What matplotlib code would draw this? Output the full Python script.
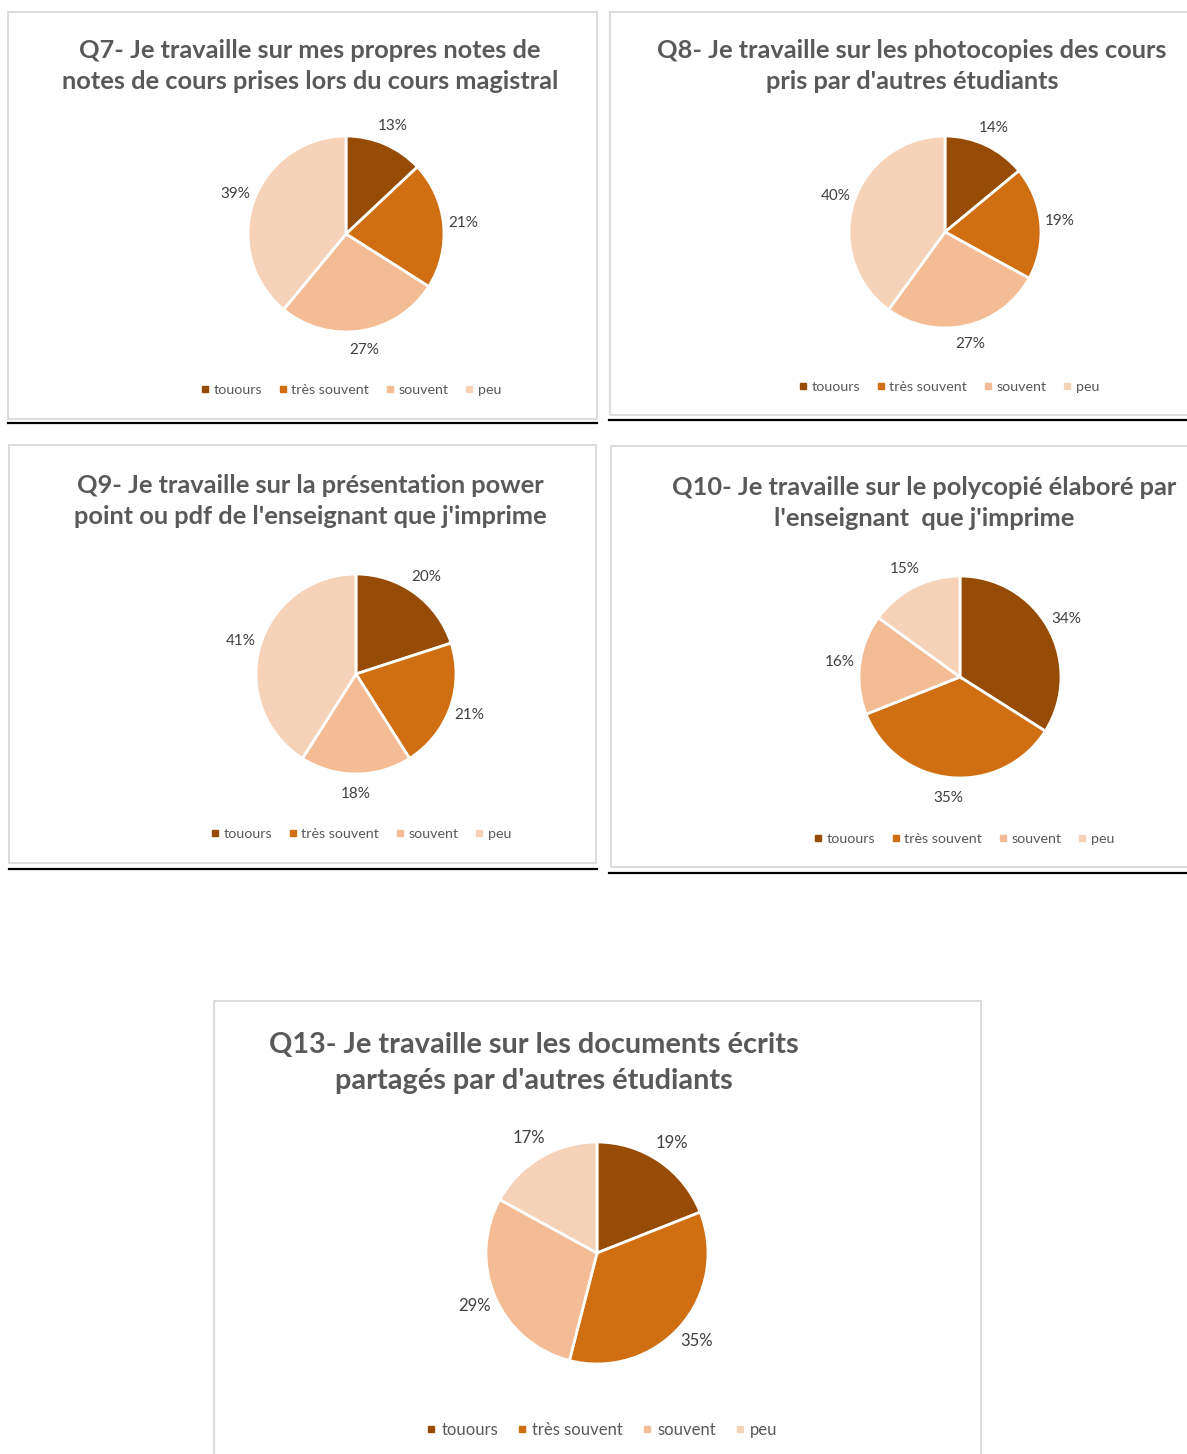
import matplotlib.pyplot as plt
from matplotlib.patches import Rectangle
from matplotlib.lines import Line2D

W, H = 1187, 1454

categories = ['touours', 'très souvent', 'souvent', 'peu']
colors = ['#974C06', '#D06E12', '#F4BC95', '#F6D2B8']

titles = [
    "Q7- Je travaille sur mes propres notes de\nnotes de cours prises lors du cours magistral",
    "Q8- Je travaille sur les photocopies des cours\npris par d'autres étudiants",
    "Q9- Je travaille sur la présentation power\npoint ou pdf de l'enseignant que j'imprime",
    "Q10- Je travaille sur le polycopié élaboré par\nl'enseignant  que j'imprime",
    "Q13- Je travaille sur les documents écrits\npartagés par d'autres étudiants",
]
q7 = [13, 21, 27, 39]
q8 = [14, 19, 27, 40]
q9 = [20, 21, 18, 41]
q10 = [34, 35, 16, 15]
q13 = [19, 35, 29, 17]
values = [q7, q8, q9, q10, q13]

# layout in pixels (from the top-left corner)
frames = [(8, 12, 597, 419), (610, 12, 1190, 415), (9, 445, 596, 863),
          (611, 446, 1190, 867), (214, 1001, 981, 1460)]
rules = [(8, 597, 423), (609, 1187, 420), (9, 597, 869), (609, 1187, 873)]
pies = [(346, 234, 98), (945, 232, 96), (356, 674, 100), (960, 677, 101), (597, 1253, 111)]
title_pos = [(310, 66, 18.3), (912, 66, 18.3), (310, 501, 18.3), (924, 503, 18.3), (534, 1063, 20.8)]
title_gap = [1.42, 1.42, 1.42, 1.42, 1.45]
legend_pos = [(350, 390, 10.3), (948, 387, 10.3), (360, 834, 10.3), (963, 839, 10.3), (601, 1430, 12)]
label_size = [11, 11, 11, 11, 12]

plt.rcParams['font.family'] = ['Lato', 'DejaVu Sans']

fig = plt.figure(figsize=(W / 100, H / 100), dpi=100)

def fx(x):
    return x / W

def fy(y):
    return 1 - y / H

for x0, y0, x1, y1 in frames:
    fig.patches.append(Rectangle((fx(x0), fy(y1)), fx(x1) - fx(x0), fy(y0) - fy(y1),
                                 transform=fig.transFigure, fill=False,
                                 edgecolor='#D9D9D9', lw=1.3))
for x0, x1, y in rules:
    fig.add_artist(Line2D([fx(x0), fx(x1)], [fy(y), fy(y)], color='black', lw=1.6,
                          transform=fig.transFigure))

handles = [Line2D([], [], marker='s', ls='', color=c, markersize=5) for c in colors]

for i in range(5):
    cx, cy, r = pies[i]
    ax = fig.add_axes([fx(cx - r), fy(cy + r), 2 * r / W, 2 * r / H])
    wedges, texts, autotexts = ax.pie(values[i], colors=colors, startangle=90,
                                      counterclock=False, radius=1,
                                      autopct='%d%%', pctdistance=1.2,
                                      wedgeprops=dict(edgecolor='white', linewidth=2))
    for t in autotexts:
        t.set_fontsize(label_size[i])
        t.set_color('#404040')
    ax.set_xlim(-1, 1)
    ax.set_ylim(-1, 1)
    ax.axis('off')

    tx, ty, ts = title_pos[i]
    fig.text(fx(tx), fy(ty), titles[i], ha='center', va='center', fontsize=ts,
             fontweight='bold', color='#595959', linespacing=title_gap[i])

    lx, ly, ls = legend_pos[i]
    fig.legend(handles, categories, loc='center', bbox_to_anchor=(fx(lx), fy(ly)),
               ncol=4, frameon=False, fontsize=ls, handletextpad=0.2,
               columnspacing=1.05, labelcolor='#595959', handlelength=0.8)

fig.savefig('out.png', dpi=100)
